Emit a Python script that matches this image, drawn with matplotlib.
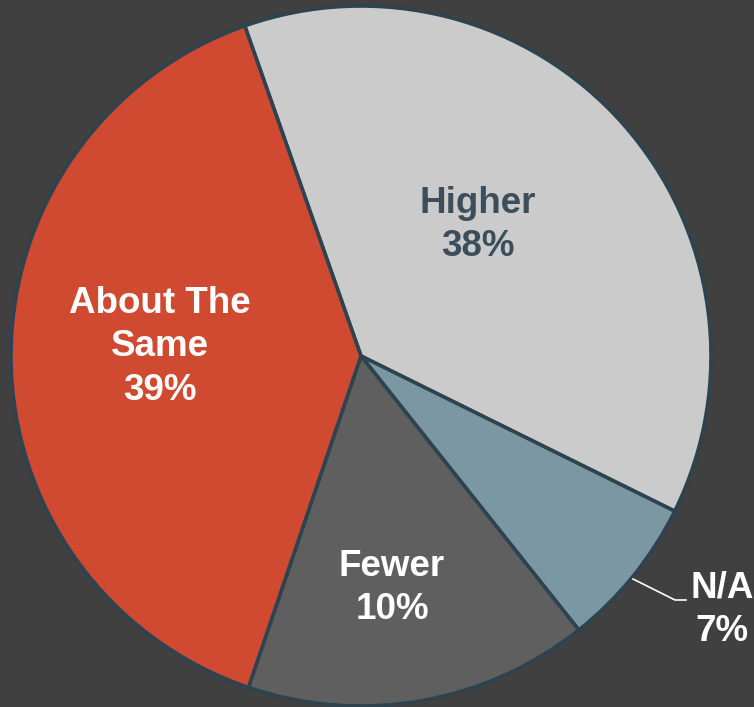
import matplotlib.pyplot as plt

# data (slice sizes) and the printed labels
categories = ['Higher', 'N/A', 'Fewer', 'About The\nSame']
shares = [37.7, 7.0, 15.9, 39.4]
pct_labels = ['38%', '7%', '10%', '39%']

colors = ['#cbcbcb', '#7a97a3', '#5f5f5f', '#d04a32']
text_colors = ['#3b4e5a', 'white', 'white', 'white']
bg = '#404040'
edge = '#2d4450'

W, H = 754, 707
fig = plt.figure(figsize=(W / 100, H / 100), dpi=100, facecolor=bg)
ax = fig.add_axes([0, 0, 1, 1])
ax.set_facecolor(bg)

# pixel-like coordinates: x right, y up
cx, cy, R = 361, H - 356, 350
wedges, _ = ax.pie(shares, colors=colors, startangle=109.4, counterclock=False,
                   center=(cx, cy), radius=R,
                   wedgeprops=dict(edgecolor=edge, linewidth=2.6))

# label placement (offsets from centre, in pixels)
offsets = [(117, 131), (361, -254), (31, -232), (-201, 9)]
plt.rcParams['font.family'] = ['Liberation Sans', 'DejaVu Sans']
for i in range(len(categories)):
    dx, dy = offsets[i]
    ax.text(cx + dx, cy + dy, categories[i] + '\n' + pct_labels[i],
            ha='center', va='center', fontsize=26.5, fontweight='bold',
            color=text_colors[i], linespacing=1.32,
            family=['Liberation Sans', 'DejaVu Sans'])

# leader line for N/A
ax.plot([633, 675, 686], [H - 579, H - 600, H - 600], color='white', lw=1.2)

ax.set_xlim(0, W)
ax.set_ylim(0, H)
ax.set_aspect('auto')
ax.axis('off')

fig.savefig('out.png', dpi=100, facecolor=bg)
